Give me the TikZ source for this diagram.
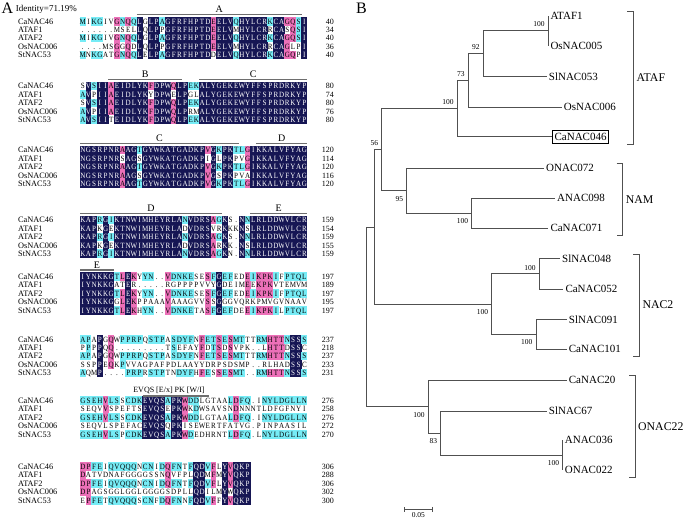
\documentclass[tikz,border=0pt]{standalone}
\usepackage{fontspec}
\setmainfont{Liberation Serif}
\usepackage{xstring}
\usetikzlibrary{positioning,arrows.meta}

\definecolor{alnavy}{RGB}{22,22,84}
\definecolor{alpink}{RGB}{236,112,184}
\definecolor{alcyan}{RGB}{118,236,246}
\definecolor{treegray}{RGB}{80,80,80}
\definecolor{bargray}{RGB}{110,110,110}

% how many of the five sequences share residue #1 in this column
\newcount\hitcount
\StrChar{-}{1}[\gapres]
\newcommand\colhits[1]{%
  \hitcount=0
  \ifx#1\resA\advance\hitcount by 1 \fi
  \ifx#1\resB\advance\hitcount by 1 \fi
  \ifx#1\resC\advance\hitcount by 1 \fi
  \ifx#1\resD\advance\hitcount by 1 \fi
  \ifx#1\resE\advance\hitcount by 1 \fi
  \ifx#1\gapres\hitcount=0 \fi}

% one residue box: navy 5/5, pink 4/5, cyan 3/5
\newcommand\rescell[2]{%
  \colhits{#1}%
  \ifcase\hitcount \def\cellbg{none}\def\cellfg{black}%
  \or \def\cellbg{none}\def\cellfg{black}%
  \or \def\cellbg{none}\def\cellfg{black}%
  \or \def\cellbg{alcyan}\def\cellfg{black}%
  \or \def\cellbg{alpink}\def\cellfg{black}%
  \else \def\cellbg{alnavy}\def\cellfg{white}\fi
  \ifx#1\gapres \def\shown{.}\else \let\shown#1\fi
  \node[res, fill=\cellbg, text=\cellfg] (r\blk-#2-\col)
    at ({80+(\col-0.5)*5.68},{\yy+(#2-1)*8.4}) {\makebox[0pt]{\scalebox{0.88}[1]{\shown}}};%
}

\begin{document}
\begin{tikzpicture}[x=1pt, y=-1pt,
    res/.style={inner sep=0pt, minimum width=5.9pt, minimum height=8.5pt,
      text height=5.6pt, text depth=0pt, font=\fontsize{8}{8}\selectfont},
    seqname/.style={anchor=west, inner sep=0pt, text height=5.6pt, text depth=0pt,
      font=\fontsize{8.3}{9}\selectfont},
    seqnum/.style={anchor=east, inner sep=0pt, text height=5.6pt, text depth=0pt,
      font=\fontsize{8}{9}\selectfont},
    dombar/.style={draw=bargray, line width=1.3pt},
    domlab/.style={inner sep=0.5pt, font=\fontsize{10}{10}\selectfont},
    branch/.style={draw=treegray, line width=0.8pt},
    leaf/.style={anchor=west, inner sep=2pt, font=\fontsize{11}{11}\selectfont},
    boot/.style={inner sep=0.5pt, font=\fontsize{7.5}{7.5}\selectfont},
    clade/.style={draw=treegray, line width=0.8pt},
    cladelab/.style={anchor=west, inner sep=2pt, font=\fontsize{11.8}{12}\selectfont}
]
\fill[white] (0,0) rectangle (685,522);
\useasboundingbox (0,0) rectangle (685,522);

% ---- A: alignment
\node[inner sep=0pt, font=\fontsize{16}{16}\selectfont] (panelA) at (7.5,8.5) {A};
\node[anchor=base west, inner sep=0pt, font=\fontsize{9}{9}\selectfont] (ident) at (15.8,11) {Identity=71.19\%};

\foreach \yy/\len/\sA/\sB/\sC/\sD/\sE [count=\blk] in {
  21.3/40/MIKGIVGNQQLGLPAGFRFHPTDEELVQHYLCRKCAGQSI/------MSELLQLPPGFRFHPTDEELVMHYLCRRCASQSI/MIKGIVGNQQLGLPAGFRFHPTDEELVQHYLCRKCAGQSI/----MSGGQDLQLPPGFRFHPTDEELVMHYLCRRCAGLPI/MNKGATGNQQLELPAGFRFHPTDDELVQHYLCRKCAGQPI,
  86/40/SVSIIAEIDLYKFDPWQLPEKALYGEKEWYFFSPRDRKYP/AVPIIAEIDLYKYDPWELPGLALYGEKEWYFFSPRDRKYP/SVSIIAEIDLYKFDPWQLPEKALYGEKEWYFFSPRDRKYP/AVPIIAEIDLYKFDPWQLPRMALYGEKEWYFFSPRDRKYP/AVSIITEIDLYKFDPWQLPEKALYGEKEWYFFSPRDRKYP,
  150/40/NGSRPNRAAGTGYWKATGADKPVGKPKTLGIKKALVFYAG/NGSRPNRSAGSGYWKATGADKPIGLPKPVGIKKALVFYAG/NGSRPNRAAGTGYWKATGADKPVGKPKTLGIKKALVFYAG/NGSRPNRAAGSGYWKATGADKPVGSPKPVAIKKALVFYAG/NGSRPNRAAGTGYWKATGADKPVGKPKTLGIKKALVFYAG,
  220/40/KAPRGIKTNWIMHEYRLANVDRSAGKS-NNLRLDDWVLCR/KAPKGEKTNWIMHEYRLADVDRSVRKKKNSLRLDDWVLCR/KAPRGIKTNWIMHEYRLANVDRSAGKS-NNLRLDDWVLCR/KAPKGEKTNWIMHEYRLADVDRSARKK-NSLRLDDWVLCR/KAPRGIKTNWIMHEYRLANVDRSAGKN-NNLRLDDWVLCR,
  276.7/40/IYNKKGTLEKYYN--VDNKESESFGEFEDEIKPKIFPTQL/IYNKKGATER-----RGPPPPVVYGDEIMEEKPKVTEMVM/IYNKKGTLEKYYN--VDNKESESFGEFEDEIKPKIFPTQL/IYNKKGGLEKPPAAAVAAAGVVSSGGGVQRKPMVGVNAAV/IYNKKGTLEKHYN--VDNKETASFGEFDEEIKPKILPTQL,
  339.3/40/APAPGQWPPRPQSTPASDYFNFETSESMTTTRMHTTNSSS/PPPPQQ---------TSEFAYFDTSDSVPK--LHTTDSSC/APAPGQWPPRPQSTPASDYFNFETSESMTTTRMHTTNSSS/SSPPEQKPVVAGPAFPDLAAYYDRPSDSMP--RLHADSSC/AQMP----PRPRSTPTNDYFHFESSESMT--RMHTTNSSS,
  400.7/40/GSEHVLSSCDKEVQSAPKWDDLGTAALDFQ-INYLDGLLN/SEQVVSPEFTSEVQSEPKWKDWSAVSNDNNNTLDFGFNYI/GSEHVLSSCDKEVQSAPKWDDLGTAALDFQ-INYLDGLLN/SEQVLSPEFACEVQSQPKISEWERTFATVG-PINPAASIL/GSEHVLSPCDKEVQSAPKWDEDHRNTLDFQ-LNYLDGLLN,
  466.7/30/DPFEIQVQQQNCNIDQFNTFQDVFLYVQKP/DATVDNAFGGGGSSNQVFPLQDMFMYVQKP/DPFEIQVQQQNCNIDQFNTFQDVFLYVQKP/DPAGSGGLGGLGGGGSDPLLQDILMYWQKP/EPFETQVQQQSCNFDQFNNFQDVFFYVQKP}
{
  \foreach \col in {1,...,\len}{
    \StrChar{\sA}{\col}[\resA]\StrChar{\sB}{\col}[\resB]\StrChar{\sC}{\col}[\resC]%
    \StrChar{\sD}{\col}[\resD]\StrChar{\sE}{\col}[\resE]%
    \rescell{\resA}{1}\rescell{\resB}{2}\rescell{\resC}{3}\rescell{\resD}{4}\rescell{\resE}{5}
  }
}

\foreach \yy/\nA/\nB/\nC/\nD/\nE [count=\blk] in {21.3/40/34/40/36/40, 86/80/74/80/76/80,
    150/120/114/120/116/120, 220/159/154/159/155/159, 276.7/197/189/197/195/197,
    339.3/237/218/237/233/231, 400.7/276/258/276/272/270, 466.7/306/288/306/302/300}{
  \foreach \nm/\num [count=\rw] in {CaNAC46/\nA, ATAF1/\nB, ATAF2/\nC, OsNAC006/\nD, StNAC53/\nE}{
    \node[seqname] (name\blk-\rw) at (18,{\yy+(\rw-1)*8.4}) {\nm};
    \node[seqnum] (num\blk-\rw) at (334,{\yy+(\rw-1)*8.4}) {\num};
  }
}

% domains over the blocks
\foreach \yy/\cs/\ce/\lab [count=\k] in {21.3/11/39/A, 86/6/18/B, 86/22/40/C, 150/1/28/C,
    150/32/40/D, 220/1/25/D, 220/31/40/E, 276.7/1/6/E}{
  \coordinate (ds\k) at ({80+(\cs-1)*5.68},\yy-6.8);
  \coordinate (de\k) at ({80+\ce*5.68},\yy-6.8);
  \draw[dombar] (ds\k) -- (de\k) node[domlab, midway, above=0.5pt] (dl\k) {\lab};
}
\coordinate (ms) at (142.5,396);
\coordinate (me) at (208.5,396);
\draw[dombar] (ms) -- (me);
\node[anchor=south, inner sep=0.5pt, font=\fontsize{8}{8}\selectfont] (motif) at (169,394.5) {EVQS [E/x] PK [W/I]};

% ---- B: tree
\node[inner sep=0pt, font=\fontsize{16}{16}\selectfont] (panelB) at (361.5,8) {B};

\node[leaf] (ATAF1) at (548.3,15.7) {ATAF1};
\node[leaf] (OsNAC005) at (548.3,45.7) {OsNAC005};
\node[leaf] (SlNAC053) at (546.7,76.7) {SlNAC053};
\node[leaf] (OsNAC006) at (561.7,107.3) {OsNAC006};
\node[leaf, draw=black, line width=0.6pt, minimum height=13pt] (CaNAC046) at (552.3,136.7) {CaNAC046};
\node[leaf] (ONAC072) at (544,168.3) {ONAC072};
\node[leaf] (ANAC098) at (555,198.3) {ANAC098};
\node[leaf] (CaNAC071) at (548.3,228.3) {CaNAC071};
\node[leaf] (SlNAC048) at (560,258.3) {SlNAC048};
\node[leaf] (CaNAC052) at (563.3,289.3) {CaNAC052};
\node[leaf] (SlNAC091) at (566.7,319.3) {SlNAC091};
\node[leaf] (CaNAC101) at (566.7,349.3) {CaNAC101};
\node[leaf] (CaNAC20) at (566.7,380) {CaNAC20};
\node[leaf] (SlNAC67) at (546.7,411) {SlNAC67};
\node[leaf] (ANAC036) at (562.7,440) {ANAC036};
\node[leaf] (ONAC022) at (562.7,470) {ONAC022};

\coordinate (n1) at (548.3,30.7);
\coordinate (n2) at (483.3,53.7);
\coordinate (n3) at (468.3,80.5);
\coordinate (n4) at (457.3,108.6);
\coordinate (n5) at (406.7,190.8);
\coordinate (n6) at (471.7,213.3);
\coordinate (n7) at (381.7,149.7);
\coordinate (n8) at (539.3,273.8);
\coordinate (n9) at (536,334.3);
\coordinate (n10) at (491.7,304);
\coordinate (n11) at (374.3,226.9);
\coordinate (n12) at (562.7,455);
\coordinate (n13) at (440.7,433);
\coordinate (n14) at (428.3,406.5);
\coordinate (root) at (366,316.7);

\foreach \p/\c in {n1/ATAF1.west, n1/OsNAC005.west, n2/n1, n2/SlNAC053.west,
    n3/n2, n3/OsNAC006.west, n4/n3, n4/CaNAC046.west, n6/ANAC098.west,
    n6/CaNAC071.west, n5/ONAC072.west, n5/n6, n7/n4, n7/n5,
    n8/SlNAC048.west, n8/CaNAC052.west, n9/SlNAC091.west, n9/CaNAC101.west,
    n10/n8, n10/n9, n11/n7, n11/n10, n12/ANAC036.west, n12/ONAC022.west,
    n13/SlNAC67.west, n13/n12, n14/CaNAC20.west, n14/n13, root/n11, root/n14}
  \draw[branch] (\p) |- (\c);

% bootstrap values
\foreach \n/\v in {n1/100, n2/92, n3/73, n4/100, n7/56, n8/100}
  \node[boot, anchor=south east, xshift=-3pt, yshift=3pt] (bs\n) at (\n) {\v};
\foreach \n/\v in {n5/95, n6/100, n9/100, n10/100, n12/100, n13/83, n14/100}
  \node[boot, anchor=north east, xshift=-3pt, yshift=-5pt] (bs\n) at (\n) {\v};

% groups
\foreach \yt/\yb/\xr/\lab [count=\k] in {11.7/144/633.3/ATAF, 163.3/235/622.7/NAM,
    254/356/639.3/NAC2, 375/477.3/635/ONAC22}{
  \draw[clade] (\xr-6,\yt) -- (\xr,\yt) -- (\xr,\yb) -- (\xr-6,\yb);
  \node[cladelab] (group\k) at (\xr+1,{(\yt+\yb)/2}) {\lab};
}

% scale
\coordinate (sbl) at (404,509.3);
\coordinate (sbr) at (432.7,509.3);
\draw[branch, {Bar[width=5pt]}-{Bar[width=5pt]}] (sbl) -- (sbr)
  node[midway, below=2pt, inner sep=0.5pt, font=\fontsize{7.5}{7.5}\selectfont] (sblab) {0.05};
\end{tikzpicture}
\end{document}
